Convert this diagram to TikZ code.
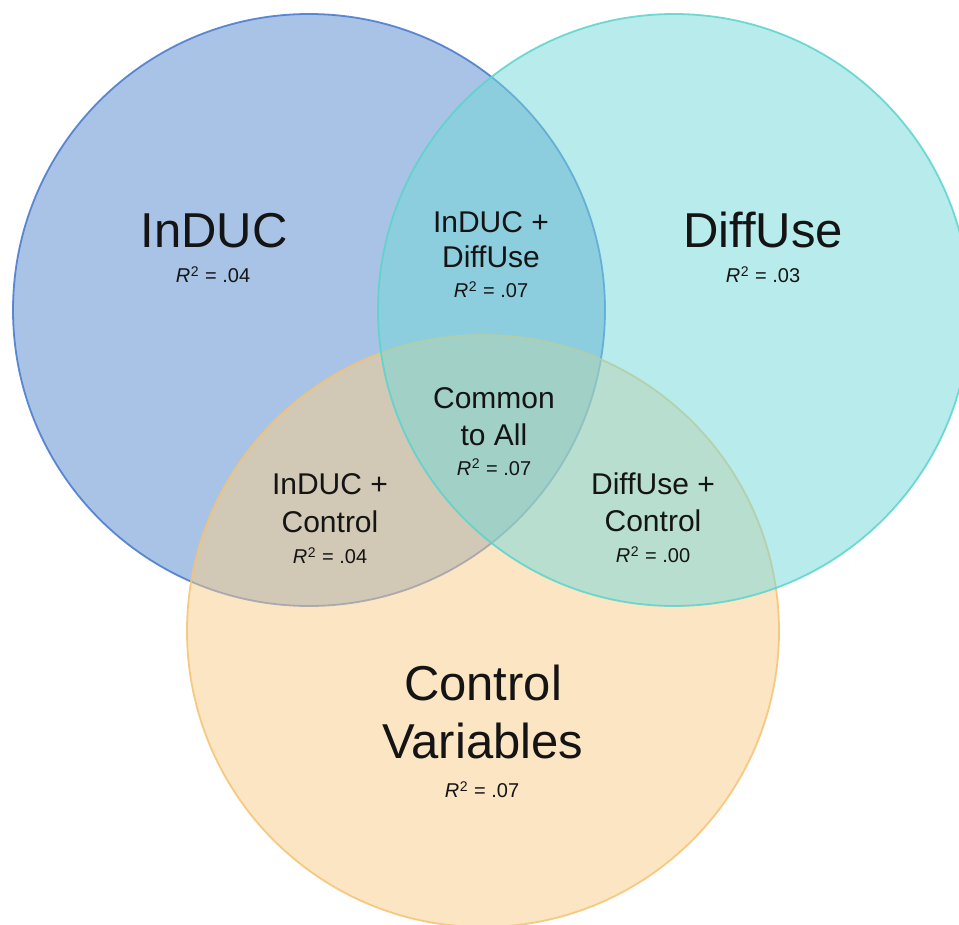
\documentclass[tikz,border=0pt]{standalone}
\usepackage{fontspec}
\setmainfont{Liberation Sans}
\definecolor{bluefill}{RGB}{83,137,205}
\definecolor{cyanfill}{RGB}{115,217,217}
\definecolor{orangefill}{RGB}{251,205,137}
\definecolor{bluestroke}{RGB}{70,120,205}
\definecolor{cyanstroke}{RGB}{90,212,205}
\definecolor{orangestroke}{RGB}{245,195,115}
\definecolor{txt}{RGB}{20,20,20}
\newcommand{\rsq}[1]{\textit{R}\kern0.5pt\raisebox{6pt}{\fontsize{14}{14}\selectfont 2}\kern1pt{} = #1}
\begin{document}
\begin{tikzpicture}[x=1pt,y=-1pt,
  venn/.style={fill opacity=0.5, draw opacity=0.85, line width=1.8pt},
  big/.style={anchor=base, inner sep=0pt, text=txt, font=\fontsize{49}{58}\selectfont},
  mid/.style={anchor=base, inner sep=0pt, text=txt, font=\fontsize{30}{35}\selectfont},
  small/.style={anchor=base, inner sep=0pt, text=txt, font=\fontsize{20}{24}\selectfont}]
\useasboundingbox (0,0) rectangle (959,925);
\fill[white] (0,0) rectangle (959,925);
\filldraw[venn, fill=bluefill, draw=bluestroke] (309,310) circle[radius=296pt];
\filldraw[venn, fill=orangefill, draw=orangestroke] (483,631) circle[radius=296pt];
\filldraw[venn, fill=cyanfill, draw=cyanstroke] (674,310) circle[radius=296pt];

\node[big] (induc) at (214,248) {InDUC};
\node[small] (r1) at (213,283) {\rsq{.04}};
\node[big] (diffuse) at (763,248) {DiffUse};
\node[small] (r2) at (763,283) {\rsq{.03}};

\node[mid] (id1) at (491,233) {InDUC +};
\node[mid] (id2) at (491,268) {DiffUse};
\node[small] (r3) at (491,298) {\rsq{.07}};

\node[mid] (ca1) at (494,408) {Common};
\node[mid] (ca2) at (494,445) {to All};
\node[small] (r4) at (494,475) {\rsq{.07}};

\node[mid] (ic1) at (330,494) {InDUC +};
\node[mid] (ic2) at (330,532) {Control};
\node[small] (r5) at (330,563) {\rsq{.04}};

\node[mid] (dc1) at (653,494) {DiffUse +};
\node[mid] (dc2) at (653,531) {Control};
\node[small] (r6) at (653,562) {\rsq{.00}};

\node[big] (cv1) at (483,700) {Control};
\node[big] (cv2) at (483,758) {Variables};
\node[small] (r7) at (482,797) {\rsq{.07}};
\end{tikzpicture}
\end{document}
